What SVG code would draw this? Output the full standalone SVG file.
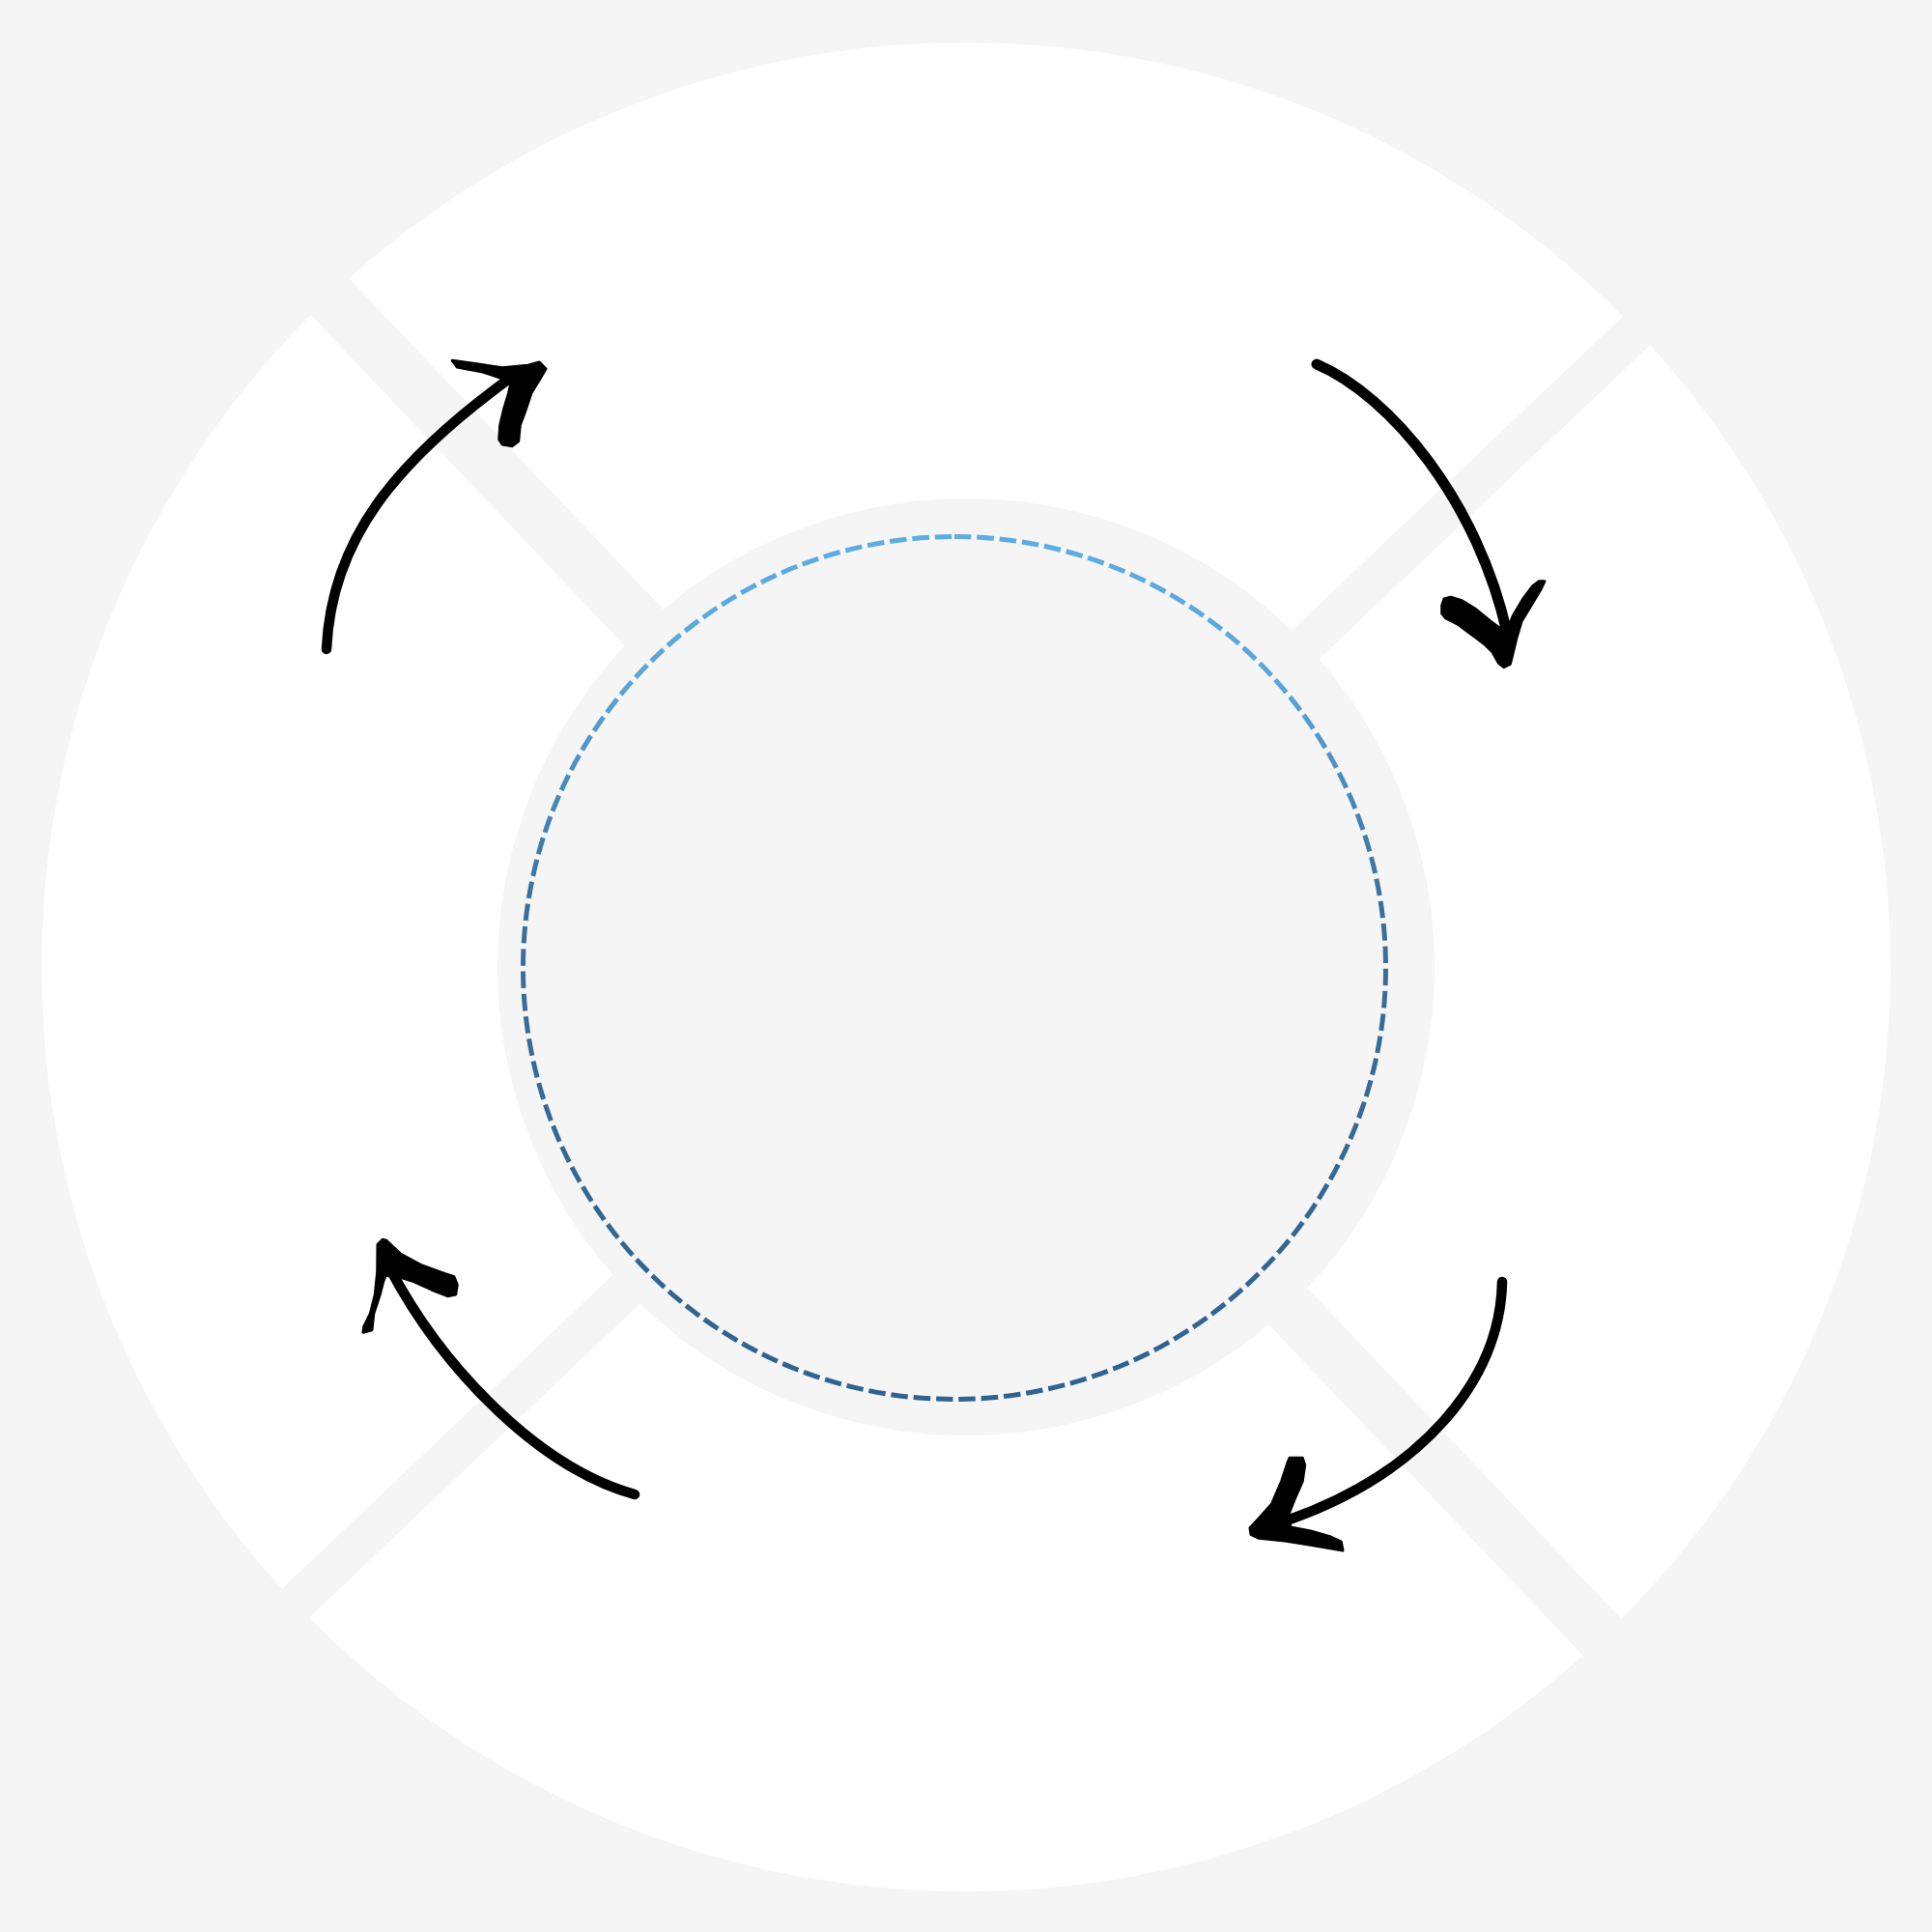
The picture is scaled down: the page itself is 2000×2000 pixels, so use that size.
<svg xmlns="http://www.w3.org/2000/svg" width="2000" height="2000" viewBox="0 0 2000 2000">
  <style>
    .seg { fill: #ffffff; }
    .shaft { fill: none; stroke: #000000; stroke-width: 10.5; stroke-linecap: round; }
    .head { fill: #000000; stroke: #000000; stroke-width: 3; stroke-linejoin: round; }
  </style>
  <defs>
    <linearGradient id="dashGrad" gradientUnits="userSpaceOnUse" x1="0" y1="555" x2="0" y2="1448">
      <stop offset="0" stop-color="#5DADE2"/>
      <stop offset="0.17" stop-color="#58a5da"/>
      <stop offset="0.42" stop-color="#3a709b"/>
      <stop offset="1" stop-color="#2e6290"/>
    </linearGradient>
  </defs>
  <rect x="0" y="0" width="2000" height="2000" fill="#f5f5f5"/>

  <g id="segment-top">
    <path class="seg" d="M361.47,288.18 A957,957 0 0 1 1679.91,327.53 L1337.38,652.58 A485,485 0 0 0 686.64,630.83 Z"/>
  </g>
  <g id="segment-right">
    <path class="seg" d="M1708.13,357.27 A957,957 0 0 1 1678.43,1675.96 L1353.26,1333.31 A485,485 0 0 0 1365.60,682.32 Z"/>
  </g>
  <g id="segment-bottom">
    <path class="seg" d="M1638.53,1713.82 A957,957 0 0 1 320.09,1674.47 L662.62,1349.42 A485,485 0 0 0 1313.36,1371.17 Z"/>
  </g>
  <g id="segment-left">
    <path class="seg" d="M291.87,1644.73 A957,957 0 0 1 321.57,326.04 L646.74,668.69 A485,485 0 0 0 634.40,1319.68 Z"/>
  </g>

  <g id="center-circle">
    <path d="M988,555.5 A446.5,446.5 0 1 1 988,1448.5 A446.5,446.5 0 1 1 988,555.5" fill="none" stroke="url(#dashGrad)" stroke-width="5" stroke-dasharray="17.5 5.9"/>
  </g>

  <g id="connectors">
    <g id="arrow-top-left">
      <path class="shaft" d="M338,672 C343,560 408,478 530,390"/>
      <polygon class="head" points="468.3,373.3 493.3,376.7 520,380.7 546.7,378.3 558.3,375 565,381.7 558.3,393.3 550,406.7 543.3,426.7 538.3,440 536.7,456.7 530,461.7 520,460 516.7,455 517.7,440 521.7,423.3 526.7,406.7 529.3,395 500,385 473.3,380"/>
    </g>
    <g id="arrow-top-right">
      <path class="shaft" style="stroke-width:11" d="M1363,377 C1440,410 1530,520 1560,655"/>
      <polygon class="head" points="1495,620 1501.7,618.3 1513.3,621.7 1526.7,630 1543.3,643.3 1552,650 1562,648 1566.7,636.7 1576.7,620 1586.7,606.7 1593.3,601.7 1599,601.7 1595,610 1585,626.7 1575,643.3 1570,660 1566,676.7 1563.3,687.3 1556.7,690.7 1551.7,686.7 1545,675 1536.7,666.7 1523.3,656.7 1510,646.7 1496.7,640 1492.7,635 1492.7,626.7"/>
    </g>
    <g id="arrow-bottom-right">
      <path class="shaft" d="M1555,1327 C1553,1430 1470,1525 1335,1573"/>
      <polygon class="head" points="1335,1509.3 1348.3,1509.3 1350.7,1516.7 1348.3,1533.3 1341.7,1548.3 1335,1565 1333.3,1570 1336,1581 1356.7,1585 1376.7,1590.7 1388.3,1596 1390,1605 1380,1603.3 1356.7,1599.3 1330,1595 1303.3,1592.3 1295,1588.3 1294,1581.7 1303.3,1571.7 1316.7,1556.7 1326.7,1533.3 1333.3,1513.3"/>
    </g>
    <g id="arrow-bottom-left">
      <path class="shaft" d="M657,1547 C560,1520 460,1420 403,1312"/>
      <polygon class="head" points="391,1288.3 396,1283.3 400,1284.3 415,1298.3 436.7,1310 460,1318.3 470,1321.7 473.3,1330 471.7,1340 463.3,1341.7 446.7,1335 426.7,1326 413.3,1321.7 406.7,1321.7 399.3,1320 396.7,1326.7 393.3,1340 386.7,1360 385,1376.7 376,1379.3 376.7,1373.3 383.3,1360 388.3,1340 390.7,1316.7"/>
    </g>
  </g>
</svg>
